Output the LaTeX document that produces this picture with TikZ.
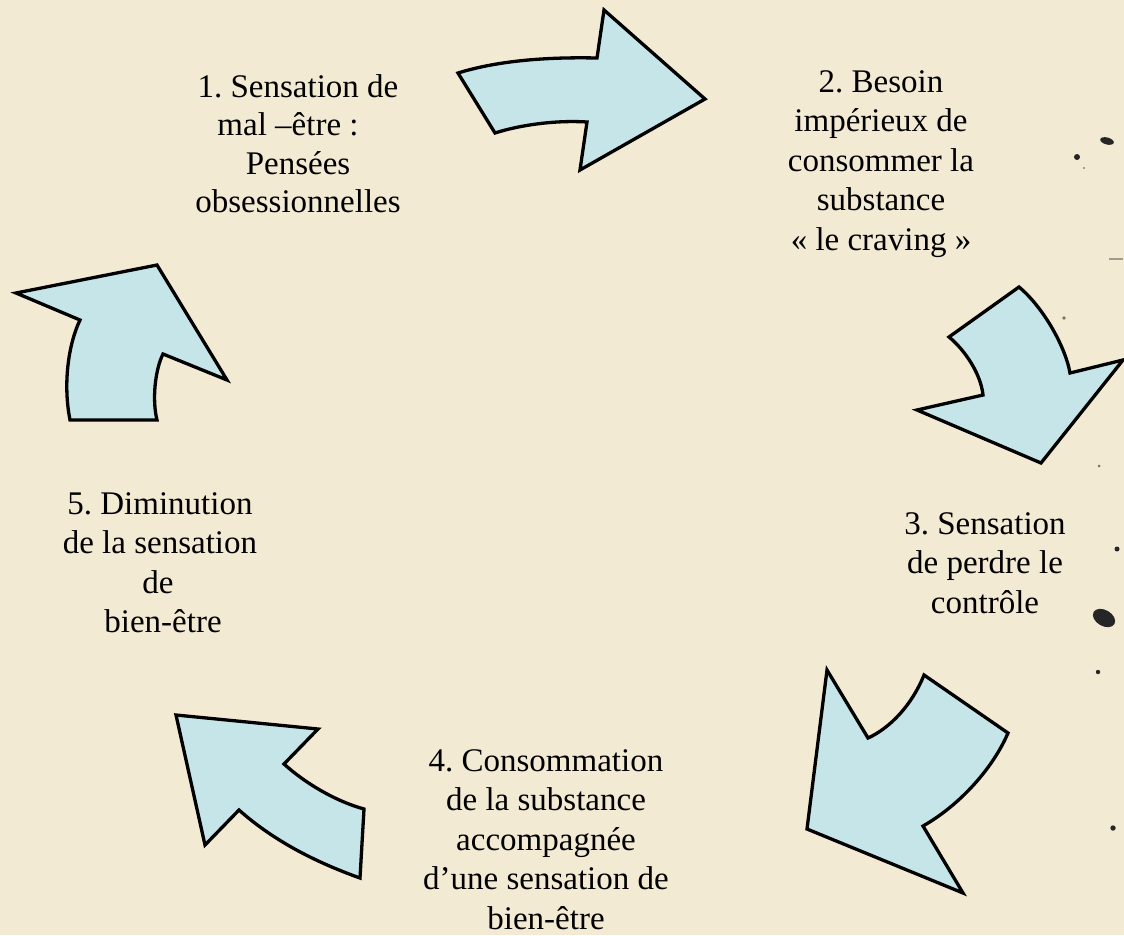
\documentclass[tikz,border=0pt]{standalone}
\usepackage{fontspec}
\setmainfont{Liberation Serif}
\frenchspacing
\definecolor{parchment}{RGB}{242,234,211}
\definecolor{arrowfill}{RGB}{197,229,232}
\begin{document}
\begin{tikzpicture}[x=1pt,y=-1pt,
  bigarrow/.style={draw=black,line width=3.3pt,line join=miter,fill=arrowfill},
  stagetext/.style={anchor=north,align=center,inner sep=0pt,font=\fontsize{33}{39.5}\selectfont},
  spot/.style={fill=black!85,draw=none}]
\fill[parchment] (0,0) rectangle (1124,935);
\useasboundingbox (0,0) rectangle (1124,935);
% spots
\fill[spot] (1107,141) ellipse [x radius=7,y radius=3.5,rotate=-15];
\fill[spot] (1077,157) circle (3);
\fill[spot,opacity=.5] (1084,168) circle (1.2);
\fill[spot,opacity=.4] (1109,258) rectangle (1123,259.5);
\fill[spot,opacity=.6] (1064,318) circle (1.8);
\fill[spot,opacity=.6] (1099,466) circle (1.5);
\fill[spot] (1117,549) circle (2.5);
\fill[spot] (1104,618) ellipse [x radius=12,y radius=8,rotate=-30];
\fill[spot] (1098,672) circle (2.2);
\fill[spot] (1113,828) circle (2.7);
% arrows
\draw[bigarrow] (458,73) .. controls (500,60) and (550,57) .. (597,58) -- (604,10) -- (705,99) -- (580,170) -- (587,122) .. controls (555,120) and (520,125) .. (495,133) -- cycle;
\draw[bigarrow] (1019,287) -- (949,337) .. controls (966,351) and (981,375) .. (983,395) -- (917,410) -- (1041,463) -- (1123,360) -- (1070,373) .. controls (1065,345) and (1042,306) .. cycle;
\draw[bigarrow] (827,670) -- (868,738) .. controls (890,728) and (912,705) .. (924,675) -- (1008,733) .. controls (993,768) and (960,805) .. (923,826) -- (963,893) -- (807,829) -- cycle;
\draw[bigarrow] (176,715) -- (318,729) -- (284,764) .. controls (305,783) and (335,801) .. (364,809) -- (360,878) .. controls (318,863) and (275,842) .. (239,810) -- (205,845) -- cycle;
\draw[bigarrow] (16,293) -- (157,265) -- (227,380) -- (163,354) .. controls (155,370) and (152,400) .. (157,420) -- (70,420) .. controls (63,385) and (68,345) .. (80,320) -- cycle;
% texts
\node[stagetext,font=\fontsize{33}{38.5}\selectfont] (t1) at (298,74) {1. Sensation de\\mal –être :\rule{20pt}{0pt}\\Pensées\\obsessionnelles};
\node[stagetext] (t2) at (881,70) {2. Besoin\\impérieux de\\consommer la\\substance\\«~le craving~»};
\node[stagetext] (t3) at (985,512) {3. Sensation\\de perdre le\\contrôle};
\node[stagetext] (t4) at (546,749) {4. Consommation\\de la substance\\accompagnée\\d’une sensation de\\bien-être};
\node[stagetext] (t5) at (160,492) {5. Diminution\\de la sensation\\de\rule{4pt}{0pt}\\\rule{6pt}{0pt}bien-être};
\end{tikzpicture}
\end{document}
